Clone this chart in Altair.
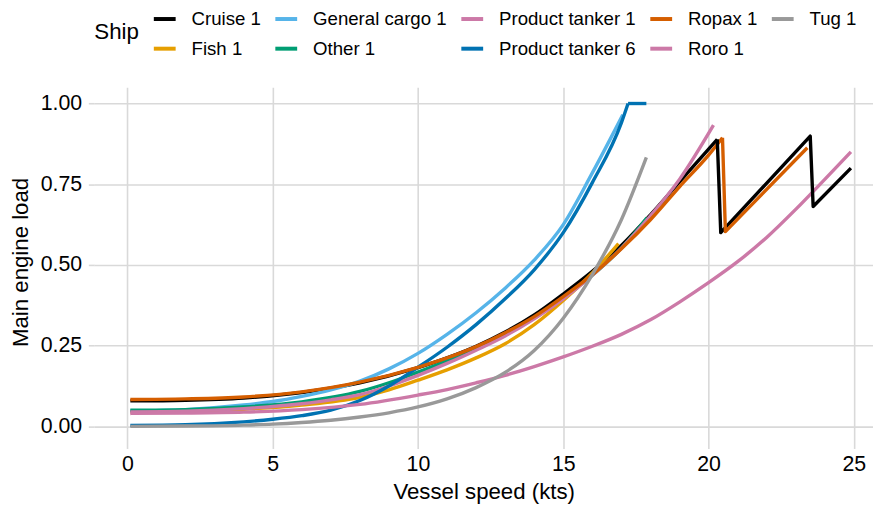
import altair as alt
import pandas as pd

# ---- data ----
legend_order = ["Cruise 1", "General cargo 1", "Product tanker 1", "Ropax 1", "Tug 1",
                "Fish 1", "Other 1", "Product tanker 6", "Roro 1"]
legend_colors = ["#000000", "#56B4E9", "#CC79A7", "#D55E00", "#999999",
                 "#E69F00", "#009E73", "#0072B2", "#CC79A7"]

cruise_x = [0.1, 2, 4, 6, 8, 10, 11, 12, 13, 14, 15, 16, 17, 18, 19, 20.3]
cruise_y = [0.079, 0.081, 0.088, 0.105, 0.135, 0.182, 0.212, 0.248, 0.292, 0.345, 0.41, 0.48, 0.56, 0.655, 0.757, 0.889]
cruise_saw_x = [20.3, 20.42, 23.5, 23.6, 24.9]
cruise_saw_y = [0.889, 0.600, 0.899, 0.681, 0.800]

fish_x = [0.1, 2, 4, 6, 8, 9, 10, 11, 12, 13, 14, 15, 16, 16.9]
fish_y = [0.045, 0.047, 0.053, 0.066, 0.09, 0.113, 0.143, 0.175, 0.212, 0.256, 0.315, 0.39, 0.475, 0.566]

cargo_x = [0.1, 2, 4, 5, 6, 7, 8, 9, 10, 11, 12, 13, 14, 15, 16, 17.05]
cargo_y = [0.048, 0.052, 0.066, 0.077, 0.093, 0.113, 0.14, 0.178, 0.226, 0.285, 0.352, 0.428, 0.515, 0.625, 0.785, 0.965]

other_x = [0.1, 2, 4, 6, 8, 9, 10, 11, 12, 13, 14, 15, 16, 17, 17.88]
other_y = [0.05, 0.052, 0.06, 0.076, 0.108, 0.135, 0.168, 0.203, 0.242, 0.286, 0.337, 0.398, 0.468, 0.552, 0.646]

pt1_x = [0.1, 2, 4, 6, 7, 8, 9, 10, 11, 12, 13, 14, 15, 16, 17, 18, 19, 20.17]
pt1_y = [0.045, 0.047, 0.055, 0.07, 0.082, 0.098, 0.125, 0.158, 0.195, 0.236, 0.28, 0.333, 0.395, 0.468, 0.552, 0.652, 0.765, 0.933]

pt6_x = [0.1, 2, 4, 5, 6, 7, 8, 9, 10, 11, 12, 13, 14, 15, 16, 17, 17.23]
pt6_y = [0.003, 0.005, 0.014, 0.022, 0.033, 0.05, 0.08, 0.125, 0.183, 0.245, 0.315, 0.395, 0.485, 0.6, 0.755, 0.94, 1.0]
pt6_flat_x = [17.23, 17.86]
pt6_flat_y = [1.0, 1.0]

ropax_x = [0.1, 2, 4, 6, 8, 10, 11, 12, 13, 14, 15, 16, 17, 18, 19, 20, 20.48]
ropax_y = [0.083, 0.085, 0.091, 0.107, 0.137, 0.183, 0.212, 0.247, 0.29, 0.34, 0.402, 0.47, 0.55, 0.64, 0.742, 0.84, 0.894]
ropax_saw_x = [20.48, 20.58, 23.4]
ropax_saw_y = [0.894, 0.603, 0.863]

roro_x = [0.1, 2, 4, 6, 8, 10, 11, 12, 13, 14, 15, 16, 17, 18, 19, 20, 21, 22, 23, 24, 24.9]
roro_y = [0.04, 0.041, 0.044, 0.052, 0.068, 0.097, 0.114, 0.135, 0.158, 0.185, 0.215, 0.248, 0.285, 0.33, 0.385, 0.445, 0.51, 0.585, 0.672, 0.765, 0.85]

tug_x = [0.1, 2, 4, 5, 6, 7, 8, 9, 10, 11, 12, 13, 14, 15, 16, 17, 17.86]
tug_y = [0.0, 0.001, 0.004, 0.007, 0.012, 0.019, 0.029, 0.042, 0.06, 0.085, 0.12, 0.167, 0.235, 0.335, 0.47, 0.64, 0.833]

x_ticks = [0, 5, 10, 15, 20, 25]
y_ticks = [0, 0.25, 0.5, 0.75, 1.0]

smooth = [("Cruise 1", cruise_x, cruise_y), ("Fish 1", fish_x, fish_y),
          ("General cargo 1", cargo_x, cargo_y), ("Other 1", other_x, other_y),
          ("Product tanker 1", pt1_x, pt1_y), ("Product tanker 6", pt6_x, pt6_y),
          ("Ropax 1", ropax_x, ropax_y), ("Roro 1", roro_x, roro_y), ("Tug 1", tug_x, tug_y)]
straight = [("Cruise 1", cruise_saw_x, cruise_saw_y), ("Product tanker 6", pt6_flat_x, pt6_flat_y),
            ("Ropax 1", ropax_saw_x, ropax_saw_y)]


def build(series):
    rows = []
    for name, xs, ys in series:
        for a, b in zip(xs, ys):
            rows.append({"ship": name, "speed": a, "load": b})
    return pd.DataFrame(rows)


df_smooth = build(smooth)
df_straight = build(straight)

FONT = "Liberation Sans"
GRID = "#D9D9D9"

x_enc = alt.X("speed:Q",
              scale=alt.Scale(domain=[-1.14, 25.66], nice=False, zero=False),
              axis=alt.Axis(values=x_ticks, title="Vessel speed (kts)", titleY=56,
                            titleBaseline="alphabetic"))
y_enc = alt.Y("load:Q",
              scale=alt.Scale(domain=[-0.05, 1.05], nice=False, zero=False),
              axis=alt.Axis(values=y_ticks, format=".2f", title="Main engine load",
                            titleX=-67, titleY=176, titleBaseline="alphabetic",
                            titleAlign="center", labelPadding=6.7))
c_enc = alt.Color("ship:N",
                  scale=alt.Scale(domain=legend_order, range=legend_colors),
                  legend=alt.Legend(title="Ship", orient="none", legendX=0, legendY=-82,
                                    direction="horizontal", columns=5,
                                    titleOrient="left", titleAnchor="middle",
                                    titleBaseline="middle", titlePadding=12,
                                    titleFontSize=22.5, titleFontWeight="normal",
                                    titleFont=FONT, titleColor="#000000",
                                    labelFont=FONT, labelFontSize=18.8, labelColor="#000000",
                                    labelOffset=14, columnPadding=6.5, rowPadding=7.0,
                                    labelLimit=300,
                                    symbolType="stroke", symbolSize=484, symbolStrokeWidth=4,
                                    padding=0))

smooth_layer = alt.Chart(df_smooth).mark_line(
    interpolate="monotone", strokeWidth=3.4, strokeCap="butt", strokeJoin="round"
).encode(x=x_enc, y=y_enc, color=c_enc)

straight_layer = alt.Chart(df_straight).mark_line(
    interpolate="linear", strokeWidth=3.4, strokeCap="butt", strokeJoin="round"
).encode(x=x_enc, y=y_enc, color=c_enc)

chart = alt.layer(smooth_layer, straight_layer).properties(
    width=785, height=358,
    autosize=alt.AutoSizeParams(type="none"),
    padding={"left": 87, "top": 78, "right": 0, "bottom": 61},
    background="#FFFFFF",
).configure_view(stroke=None).configure_axis(
    grid=True, gridColor=GRID, gridWidth=1.6, domain=False,
    ticks=True, tickColor=GRID, tickWidth=1.6, tickSize=6,
    labelFont=FONT, labelFontSize=21.5, labelColor="#000000",
    titleFont=FONT, titleFontSize=22.4, titleFontWeight="normal", titleColor="#000000",
).configure_axisX(labelPadding=5)

chart.save("out.html", embed_options={"renderer": "svg", "actions": False})
